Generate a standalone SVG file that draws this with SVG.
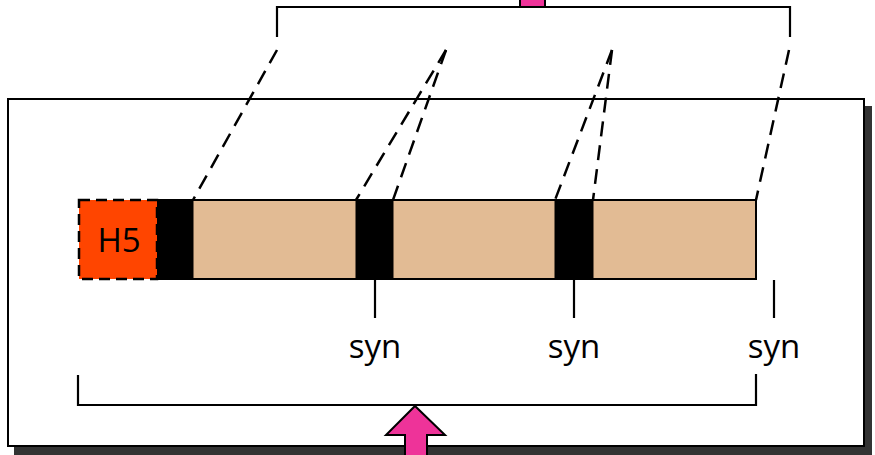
<svg xmlns="http://www.w3.org/2000/svg" width="875" height="455" viewBox="0 0 875 455">
<defs>
<style>
.line{fill:none;stroke:#000;stroke-width:2.2}
.dash{fill:none;stroke:#000;stroke-width:2.5;stroke-dasharray:15 9}
.seg{fill:#000;stroke:#000;stroke-width:1}
.tan{fill:#E2BB94;stroke:#000;stroke-width:2}
.lbl{font-family:"Open Sans","Noto Sans",sans-serif;font-size:33px;fill:#000;text-anchor:middle}
.arrow{fill:#EE3399;stroke:#000;stroke-width:2}
</style>
</defs>
<g id="panel">
<rect x="14" y="106" width="858" height="349" fill="#333"/>
<rect x="8" y="99" width="856" height="347" fill="#fff" stroke="#000" stroke-width="2"/>
</g>
<g id="top-arrow">
<rect class="arrow" x="520" y="-4" width="25" height="11"/>
</g>
<g id="top-bracket">
<path class="line" d="M277,37 V7 H790 V37"/>
</g>
<g id="bar">
<rect class="tan" x="157" y="200" width="599" height="79"/>
<rect class="seg" x="157" y="200" width="36" height="79"/>
<rect class="seg" x="356" y="200" width="37" height="79"/>
<rect class="seg" x="555" y="200" width="38" height="79"/>
</g>
<g id="h5">
<rect x="79" y="200" width="78" height="79" fill="#FF4500" stroke="#000" stroke-width="2.5" stroke-dasharray="11 6"/>
<text class="lbl" x="119" y="252">H5</text>
</g>
<g id="connectors">
<line class="dash" x1="277" y1="50" x2="193" y2="200"/>
<line class="dash" x1="446" y1="50" x2="356" y2="200"/>
<line class="dash" x1="446" y1="50" x2="393" y2="200"/>
<line class="dash" x1="612" y1="50" x2="555" y2="200"/>
<line class="dash" x1="612" y1="50" x2="593" y2="200"/>
<line class="dash" x1="789" y1="50" x2="756" y2="200"/>
<line class="line" x1="375" y1="280" x2="375" y2="318"/>
<line class="line" x1="574" y1="280" x2="574" y2="318"/>
<line class="line" x1="774" y1="280" x2="774" y2="318"/>
</g>
<g id="syn-labels">
<text class="lbl" x="375" y="358">syn</text>
<text class="lbl" x="574" y="358">syn</text>
<text class="lbl" x="774" y="358">syn</text>
</g>
<g id="bottom-bracket">
<path class="line" d="M78,375 V405 H756 V374"/>
</g>
<g id="bottom-arrow">
<path class="arrow" d="M415,406 L445,435 L427,435 L427,460 L405,460 L405,435 L386,435 Z"/>
</g>
</svg>
